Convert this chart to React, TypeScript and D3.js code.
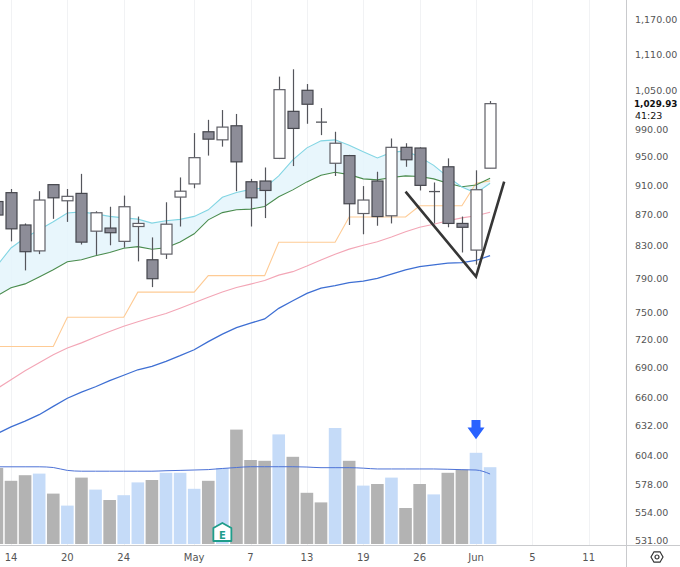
import React from "react";
import * as d3 from "d3";

// ---- data (Apr 13 .. Jun 2, 2020, daily) ----
const dates = [
  "2020-04-13","2020-04-14","2020-04-15","2020-04-16","2020-04-17","2020-04-20","2020-04-21","2020-04-22",
  "2020-04-23","2020-04-24","2020-04-27","2020-04-28","2020-04-29","2020-04-30","2020-05-01","2020-05-04",
  "2020-05-05","2020-05-06","2020-05-07","2020-05-08","2020-05-11","2020-05-12","2020-05-13","2020-05-14",
  "2020-05-15","2020-05-18","2020-05-19","2020-05-20","2020-05-21","2020-05-22","2020-05-26","2020-05-27",
  "2020-05-28","2020-05-29","2020-06-01","2020-06-02",
];
const openP = [888,900,857,824,911,889,899,849,853,836,855,813,820,894,912,987,975,996,915,916,948,1018,1051,1002,941,952,872,916,869,964,963,901,936,859,825,934];
const highP = [893,905,859,902,911,905,926,875,881,896,868,841,887,921,985,1005,1020,1014,919,935,1073,1085,1061,1023,987,953,909,929,977,970,964,914,948,868,931,1034];
const lowP = [865,836,800,820,865,861,832,819,831,828,811,780,814,855,906,952,965,902,855,866,947,937,999,982,923,857,845,856,859,936,903,859,854,822,807,934];
const closeP = [870,852,823,890,893,895,835,873,847,881,859,790,858,902,949,976,994,943,893,903,1052,992,1029,1001,970,885,890,868,964,946,910,902,859,854,904,1029.93];
const volumeM = [9.5,7.9,8.6,8.8,6.3,4.8,8.3,6.8,5.5,6.1,7.7,8.0,8.9,8.9,6.9,7.9,9.5,14.3,10.5,10.4,13.7,10.9,6.4,5.2,14.5,10.4,7.3,7.5,8.3,4.5,7.5,6.2,8.9,9.3,11.4,9.6];
const volumeMA = [9.65,9.65,9.65,9.65,9.56,9.2,9.1,9.1,9.1,9.1,9.1,9.1,9.16,9.2,9.25,9.3,9.44,9.56,9.66,9.66,9.66,9.66,9.62,9.54,9.54,9.54,9.48,9.38,9.38,9.38,9.38,9.38,9.34,9.29,9.25,8.75];
const emaFast = [805.6,827.7,840.5,850.8,861.1,872.8,874.2,871.5,868.2,866.3,864.6,859.4,862.4,864.3,868.2,876.9,893.7,900.2,904.5,906.5,923.2,945.8,963.2,973.5,975,966.9,957.4,948.6,956.6,958.8,950,938,921.8,907.8,899.4,913];
const emaSlow = [769.8,779.2,783.8,792.1,800.7,810.5,813,817.9,822.1,827.3,829.3,826.1,828,835.3,845.6,863.7,873.2,876.9,877.8,881.3,894.4,903.8,914.8,924,928.2,924.9,919,917.6,920.9,923.2,922.3,919,913,908.2,910.6,920];
const stepLine = [712.9,712.9,712.9,712.9,712.9,745.2,745.2,745.2,745.2,745.2,774.1,774.1,774.1,774.1,774.1,793.7,793.7,793.7,793.7,793.7,834.9,834.9,834.9,834.9,834.9,867.5,867.5,867.5,867.5,867.5,882.3,882.3,882.3,882.3,913,916.2];
const ma50 = [668.7,677.9,687.1,695.5,704,711.2,716.8,723.3,729.2,735,740.2,744.9,749.4,755.5,761.7,768.2,774.3,779.5,783.5,787.9,794.3,798.5,805.3,812.7,819.9,826.2,831,835.6,841.5,848.2,854.1,857.9,862.4,866.3,869.1,873.8];
const ma100 = [624.5,631.1,636.7,642.9,651,659.1,665.3,670.7,676.9,682.5,688.2,691.7,697.1,703,709.4,718.1,726.4,733.6,738.6,743.3,755.3,764,772.7,778.8,781.8,785.2,787.1,790.5,795.4,800.7,804.7,806.8,808.9,809.6,812.1,818.2];

const priceTicks = [1170,1110,1050,990,950,910,870,830,790,750,720,690,660,632,604,578,554,531];
const timeTickIndex = [1,5,9,14,18,22,26,30,34,38,42];
const timeTickLabels = ["14","20","24","May","7","13","19","26","Jun","5","11"];
const lastPrice = 1029.93;
const countdown = "41:23";
const vDrawing = [{ i: 29, p: 901.5 }, { i: 34, p: 792.5 }, { i: 36, p: 915.2 }];
const arrowIndex = 34;
const arrowVol = [13.1, 15.5];
const earningsIndex = 16;

const W = 680, H = 567;
const PANE_R = 626.5, PANE_B = 545;
const FONT = "'DejaVu Sans', Verdana, sans-serif";

export default function App() {
  const x = d3.scaleLinear().domain([1, 34]).range([11, 476]);
  const y = d3.scaleLog().domain([531, 1170]).range([540.9, 19.5]);
  const yv = d3.scaleLinear().domain([0, 10]).range([544, 464]);
  const idx = dates.map((_, i) => i);

  const line = (arr: number[]) =>
    d3.line<number>().x((i) => x(i)).y((i) => y(arr[i]))(idx) || "";
  const area = d3.area<number>().x((i) => x(i)).y0((i) => y(emaSlow[i])).y1((i) => y(emaFast[i]))(idx) || "";
  const volLine = d3.line<number>().x((i) => x(i)).y((i) => yv(volumeMA[i])).curve(d3.curveMonotoneX)(idx) || "";
  const vPath = d3.line<{ i: number; p: number }>().x((d) => x(d.i)).y((d) => y(d.p))(vDrawing) || "";

  const bodyW = 11;
  const volW = 12.6;
  const ax = x(arrowIndex);
  const ayTip = yv(arrowVol[0]);
  const ayTop = yv(arrowVol[1]);
  const ex = x(earningsIndex);
  const ey = 533;

  return (
    <svg width={W} height={H} style={{ position: "fixed", left: 0, top: 0, background: "#fff" }} fontFamily={FONT}>
      <defs>
        <clipPath id="pane"><rect x={0} y={0} width={PANE_R} height={PANE_B} /></clipPath>
        <clipPath id="axisclip"><rect x={PANE_R} y={0} width={W - PANE_R} height={PANE_B} /></clipPath>
      </defs>
      <rect x={0} y={0} width={W} height={H} fill="#fff" />
      <g clipPath="url(#pane)">
        {timeTickIndex.map((t, k) => (
          <line key={k} x1={Math.round(x(t)) + 0.5} x2={Math.round(x(t)) + 0.5} y1={0} y2={PANE_B} stroke="#f1f2f4" strokeWidth={1} />
        ))}
        {/* volume */}
        {idx.map((i) => (
          <rect key={"v" + i} x={x(i) - volW / 2} y={yv(volumeM[i])} width={volW} height={yv(0) - yv(volumeM[i])}
            fill={closeP[i] >= openP[i] ? "#c5dbf8" : "#b3b3b3"} />
        ))}
        <path d={volLine} fill="none" stroke="#4d72d6" strokeWidth={1} />
        {/* price overlays */}
        <path d={area} fill="#e4f5fb" opacity={0.85} />
        <path d={line(ma100)} fill="none" stroke="#3e6fd3" strokeWidth={1.3} />
        <path d={line(ma50)} fill="none" stroke="#f3a6b6" strokeWidth={1.1} />
        <path d={line(stepLine)} fill="none" stroke="#fecb95" strokeWidth={1.1} />
        <path d={line(emaSlow)} fill="none" stroke="#4a8c4e" strokeWidth={1.1} />
        <path d={line(emaFast)} fill="none" stroke="#82d5e3" strokeWidth={1.1} />
        {/* candles */}
        {idx.map((i) => {
          const cx = Math.round(x(i)) + 0.5;
          const up = closeP[i] >= openP[i];
          const top = y(Math.max(openP[i], closeP[i]));
          const bot = y(Math.min(openP[i], closeP[i]));
          const h = Math.max(1, bot - top);
          return (
            <g key={"c" + i}>
              <line x1={cx} x2={cx} y1={y(highP[i])} y2={y(lowP[i])} stroke="#55565c" strokeWidth={1.2} />
              {h <= 2 ? (
                <line x1={cx - bodyW / 2} x2={cx + bodyW / 2} y1={(top + bot) / 2} y2={(top + bot) / 2} stroke="#55565c" strokeWidth={1.3} />
              ) : (
                <rect x={cx - bodyW / 2} y={top} width={bodyW} height={h}
                  fill={up ? "#ffffff" : "#8d8d98"} stroke={up ? "#5f5f66" : "#45464d"} strokeWidth={1.2} />
              )}
            </g>
          );
        })}
        {/* drawing */}
        <path d={vPath} fill="none" stroke="#363636" strokeWidth={2.6} strokeLinejoin="miter" />
        {/* arrow */}
        <path
          d={`M${ax - 4.5},${ayTop} L${ax + 4.5},${ayTop} L${ax + 4.5},${ayTop + 7.5} L${ax + 8.5},${ayTop + 7.5} L${ax},${ayTip} L${ax - 8.5},${ayTop + 7.5} L${ax - 4.5},${ayTop + 7.5} Z`}
          fill="#2962ff" />
        {/* earnings */}
        <path
          d={`M${ex - 9},${ey + 8} L${ex - 9},${ey - 5} L${ex},${ey - 10} L${ex + 9},${ey - 5} L${ex + 9},${ey + 8} Z`}
          fill="#fff" stroke="#1f9d8b" strokeWidth={1.8} strokeLinejoin="round" />
        <text x={ex} y={ey + 5.5} textAnchor="middle" fontSize={10} fontWeight="bold" fill="#1f9d8b">E</text>
      </g>
      {/* axes lines */}
      <line x1={0} x2={W} y1={PANE_B + 0.5} y2={PANE_B + 0.5} stroke="#c9cacd" strokeWidth={1} />
      <line x1={PANE_R} x2={PANE_R} y1={0} y2={H} stroke="#c9cacd" strokeWidth={1} />
      {/* price labels */}
      <g clipPath="url(#axisclip)" fontSize={9.5} fill="#555">
        {priceTicks.map((p, k) => (
          <text key={k} x={635} y={y(p)} dy="0.35em">{d3.format(",.2f")(p)}</text>
        ))}
        <text x={634} y={y(lastPrice)} dy="0.35em" fill="#111" fontWeight="bold" fontSize={8.8}>{d3.format(",.2f")(lastPrice)}</text>
        <text x={635} y={y(lastPrice) + 12.5} dy="0.35em" fill="#111">{countdown}</text>
      </g>
      {/* time labels */}
      <g fontSize={10} fill="#555" textAnchor="middle">
        {timeTickIndex.map((t, k) => (
          <text key={k} x={x(t)} y={557} dy="0.35em">{timeTickLabels[k]}</text>
        ))}
      </g>
      {/* settings icon */}
      <g transform="translate(657,557)" fill="none" stroke="#333" strokeWidth={1.2}>
        <path d={d3.range(6).map((k) => {
          const a = (Math.PI / 3) * k;
          return (k === 0 ? "M" : "L") + (6 * Math.cos(a)).toFixed(2) + "," + (6 * Math.sin(a)).toFixed(2);
        }).join("") + "Z"} />
        <circle r={2} />
      </g>
    </svg>
  );
}
